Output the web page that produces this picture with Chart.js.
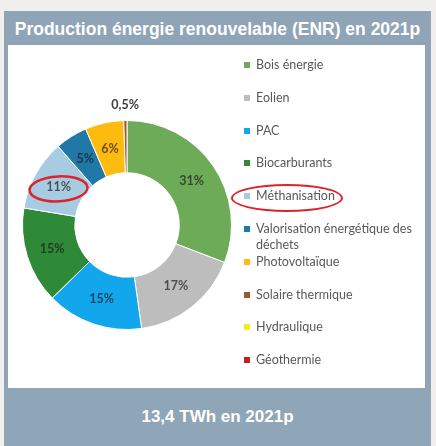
<!DOCTYPE html>
<html>
<head>
<meta charset="utf-8">
<script src="https://cdn.jsdelivr.net/npm/chart.js@4"></script>
<style>
  body { margin: 0; background: #f1f0ee; width: 436px; height: 446px; overflow: hidden; position: relative; font-family: "Liberation Sans", Arial, sans-serif; }
  #panel { position: absolute; left: 4px; top: 11px; width: 427px; height: 435px; background: #8fa4b7; }
  #title { position: absolute; left: 0; top: 1px; width: 427px; height: 34px; line-height: 34px; text-align: center; color: #fff; font-weight: bold; font-size: 17.5px; white-space: nowrap; }
  #inner { position: absolute; left: 4px; top: 34px; width: 417px; height: 343px; background: #fff; }
  #foot { position: absolute; left: 0; top: 377px; width: 427px; height: 58px; line-height: 58px; text-align: center; color: #fff; font-weight: bold; font-size: 17px; background: #8fa6b9; }
  #wrap { position: absolute; left: 0; top: 0; width: 240px; height: 343px; }
  #legend { position: absolute; left: 236px; top: 0; width: 180px; font-family: Lato, "Open Sans", sans-serif; font-size: 12.5px; color: #595959; }
  .item { position: absolute; left: 0; width: 175px; line-height: 16px; }
  .box { position: absolute; left: 0; top: 5px; width: 6px; height: 6px; }
  .txt { position: absolute; left: 12px; top: 0; width: 162px; }
  #ring { position: absolute; left: 223px; top: 139px; width: 108px; height: 24px; border: 2.5px solid #d8262c; border-radius: 50%; }
</style>
</head>
<body>
<div id="panel">
  <div id="title">Production énergie renouvelable (ENR) en 2021p</div>
  <div id="inner">
    <div id="wrap"><canvas id="myChart"></canvas></div>
    <div id="legend"></div>
    <div id="ring"></div>
  </div>
  <div id="foot">13,4 TWh en 2021p</div>
</div>
<script>
var labels = ['Bois énergie', 'Eolien', 'PAC', 'Biocarburants', 'Méthanisation',
  'Valorisation énergétique des déchets', 'Photovoltaïque', 'Solaire thermique', 'Hydraulique', 'Géothermie'];
var shares = [31, 17, 15, 15, 11, 5, 6, 0.5, 0, 0];
var colors = ['#6dab58', '#bdbdbd', '#12a6ec', '#2e8a36', '#a7cbe0',
  '#1f78a6', '#fdbb0f', '#9a5a2a', '#f5ec1a', '#c4201c'];

// html legend, fixed row spacing like the original
var legend = document.getElementById('legend');
labels.forEach(function (l, i) {
    var it = document.createElement('div');
    it.className = 'item';
    it.style.top = (12 + i * 32.8) + 'px';
    it.innerHTML = '<span class="box" style="background:' + colors[i] + '"></span><span class="txt">' + l + '</span>';
    legend.appendChild(it);
});

function fmt(v) {
    return String(v).replace('.', ',') + '%';
}

var pctLabels = {
    id: 'pctLabels',
    afterDatasetsDraw: function (chart) {
        var ctx = chart.ctx;
        var meta = chart.getDatasetMeta(0);
        ctx.save();
        ctx.textAlign = 'center';
        ctx.textBaseline = 'middle';
        ctx.font = 'bold 12.5px Lato, "Open Sans", sans-serif';
        meta.data.forEach(function (arc, i) {
            var v = shares[i];
            if (!v) return;
            var p = arc.getProps(['x', 'y', 'startAngle', 'endAngle', 'innerRadius', 'outerRadius'], true);
            var a = (p.startAngle + p.endAngle) / 2;
            var r, col;
            if (v < 1) {
                r = p.outerRadius + 16;
                col = '#404040';
            } else {
                r = (p.innerRadius + p.outerRadius) / 2;
                col = 'rgba(25,25,25,0.68)';
            }
            var x = p.x + Math.cos(a) * r;
            var y = p.y + Math.sin(a) * r;
            ctx.fillStyle = col;
            ctx.fillText(fmt(v), x, y);
            if (labels[i] === 'Méthanisation') {
                ctx.strokeStyle = '#d8262c';
                ctx.lineWidth = 2.5;
                ctx.beginPath();
                ctx.ellipse(x, y + 2, 29, 12.5, -0.05, 0, Math.PI * 2);
                ctx.stroke();
            }
        });
        ctx.restore();
    }
};

var ctx = document.getElementById('myChart').getContext('2d');
var chart = new Chart(ctx, {
    type: 'doughnut',
    data: {
        labels: labels,
        datasets: [{
            data: shares,
            backgroundColor: colors,
            borderColor: '#ffffff',
            borderWidth: 1
        }]
    },
    options: {
        responsive: true,
        maintainAspectRatio: false,
        animation: false,
        cutout: '50%',
        layout: { padding: { left: 14, right: 16, top: 75, bottom: 58 } },
        plugins: {
            legend: { display: false },
            tooltip: { enabled: false }
        }
    },
    plugins: [pctLabels]
});
</script>
</body>
</html>
